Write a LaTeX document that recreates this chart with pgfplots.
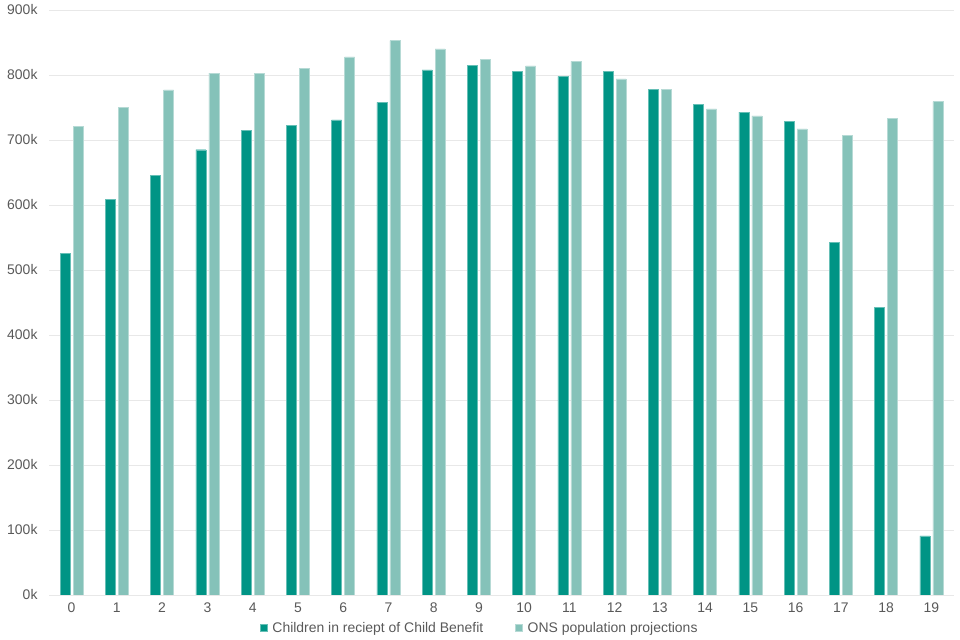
\documentclass[border=0pt]{standalone}
\usepackage{fontspec}
\setmainfont{Liberation Sans}
\usepackage{pgfplots}
\pgfplotsset{compat=1.18}
\definecolor{cbdark}{RGB}{0,148,133}
\definecolor{cblight}{RGB}{133,194,185}
\definecolor{tickgray}{RGB}{89,89,89}
\definecolor{gridgray}{RGB}{232,232,232}
\begin{document}
\begin{tikzpicture}[x=1bp,y=1bp]
\path (0,0) rectangle (960,640);
\begin{axis}[
  at={(49bp,45bp)}, anchor=south west, scale only axis,
  width=905bp, height=585bp,
  ymin=0, ymax=900000, xmin=-0.5, xmax=19.5,
  ytick={0,100000,200000,300000,400000,500000,600000,700000,800000,900000},
  yticklabels={0k,100k,200k,300k,400k,500k,600k,700k,800k,900k},
  xtick={0,...,19},
  scaled y ticks=false,
  axis line style={draw=none}, major tick length=0pt,
  ymajorgrids, grid style={gridgray, line width=0.9bp},
  tick label style={font=\fontsize{14}{16}\selectfont, text=tickgray},
  yticklabel style={xshift=-8bp},
  xticklabel style={yshift=-4bp},
  /pgf/number format/assume math mode=true,
  ybar, bar width=10bp,
  legend columns=2,
  legend style={draw=none, fill=none, at={(0.476,-0.0564)}, anchor=center,
    font=\fontsize{14}{16}\selectfont, text=tickgray,
    /tikz/every even column/.append style={column sep=30bp}},
  legend cell align=left,
  legend image code/.code={\fill[#1] (0bp,-3.5bp) rectangle (7bp,3.5bp); \path (10bp,0bp);},
]
\addplot[fill=cbdark, draw=cbdark!60!white, line width=0.4bp, bar shift=-6.5bp] coordinates {
(0,526000) (1,609000) (2,646000) (3,685000) (4,715000) (5,723000) (6,731000) (7,758000) (8,808000) (9,815000)
(10,806000) (11,798000) (12,806000) (13,778000) (14,755000) (15,743000) (16,729000) (17,542000) (18,443000) (19,91000)};
\addplot[fill=cblight, draw=cblight!60!white, line width=0.4bp, bar shift=6.5bp] coordinates {
(0,721000) (1,750000) (2,777000) (3,803000) (4,803000) (5,810000) (6,828000) (7,853000) (8,840000) (9,824000)
(10,814000) (11,821000) (12,794000) (13,778000) (14,748000) (15,737000) (16,717000) (17,707000) (18,733000) (19,759000)};
\legend{Children in reciept of Child Benefit, ONS population projections}
\end{axis}
\end{tikzpicture}
\end{document}
